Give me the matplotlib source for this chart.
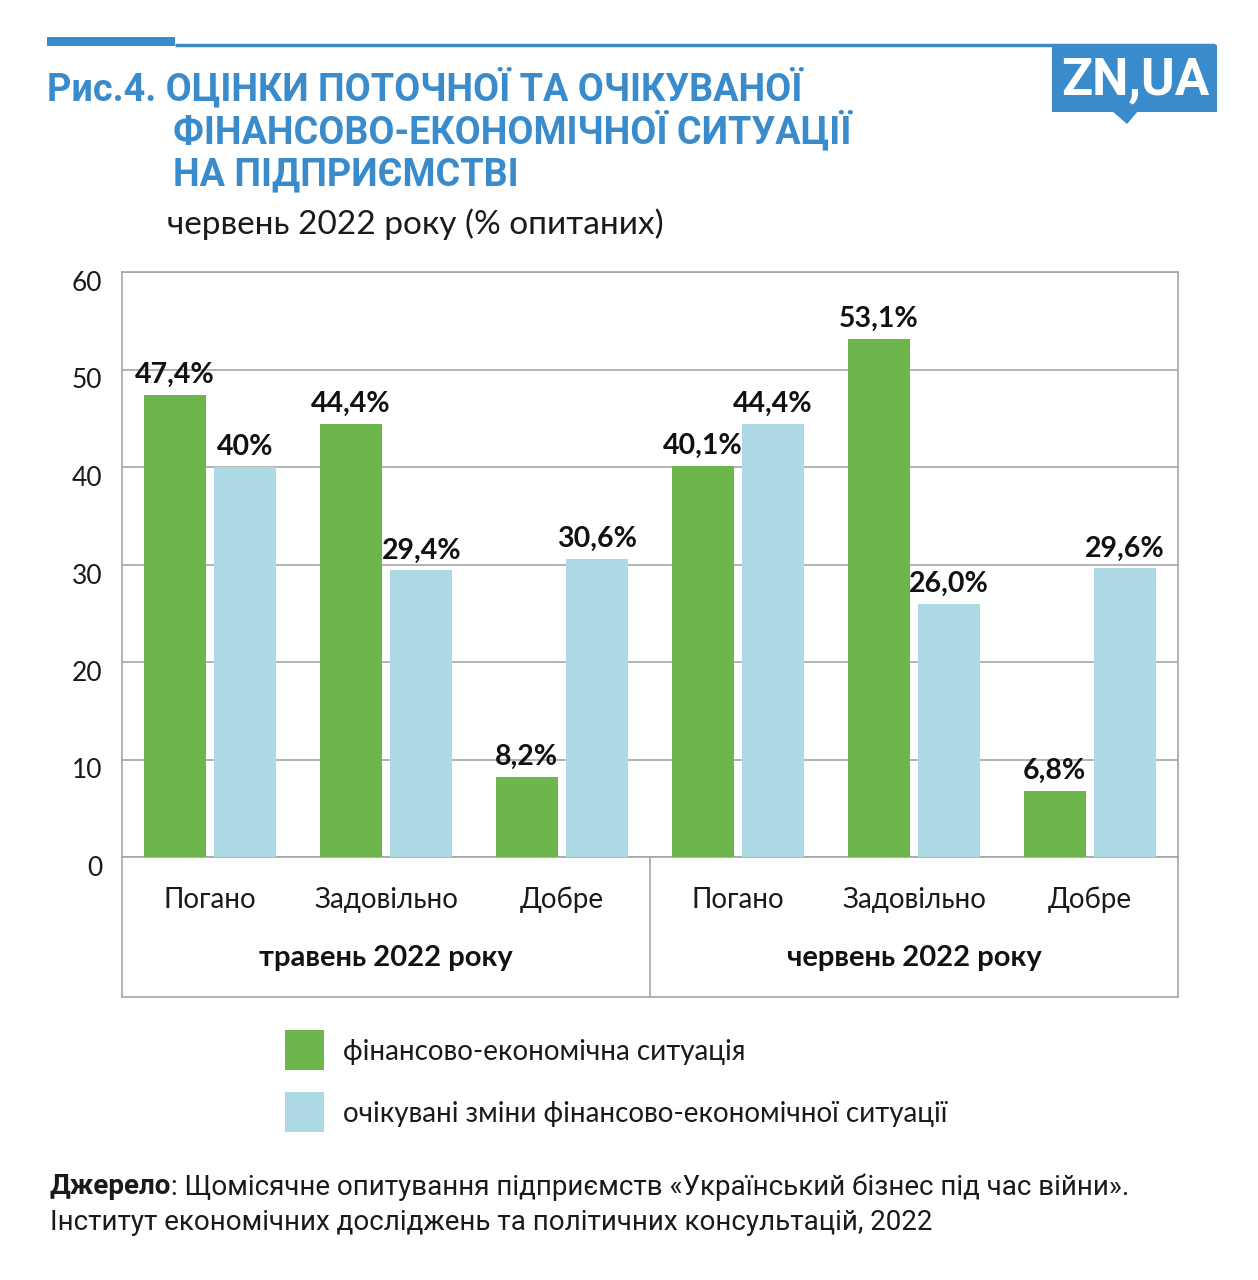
import numpy as np
import matplotlib
matplotlib.use("Agg")
import matplotlib.pyplot as plt
import matplotlib.transforms as mtransforms
from matplotlib.patches import Rectangle, Polygon

# data
groups = ["травень 2022 року", "червень 2022 року"]
categories = ["Погано", "Задовільно", "Добре"]
current = [47.4, 44.4, 8.2, 40.1, 53.1, 6.8]
expected = [40.0, 29.4, 30.6, 44.4, 26.0, 29.6]
current_lbl = ["47,4%", "44,4%", "8,2%", "40,1%", "53,1%", "6,8%"]
expected_lbl = ["40%", "29,4%", "30,6%", "44,4%", "26,0%", "29,6%"]
series_names = ["фінансово-економічна ситуація",
                "очікувані зміни фінансово-економічної ситуації"]

green = "#6db64e"
lblue = "#add9e5"
blue = "#3a8bcb"
grey = "#a6a6a6"

plt.rcParams['font.family'] = ['Lato', 'DejaVu Sans']
narrow = ['Roboto', 'DejaVu Sans']

W, H = 1258, 1280
fig = plt.figure(figsize=(W / 100, H / 100), dpi=100)

# overlay for decorations in pixel coords
deco = fig.add_axes([0, 0, 1, 1])
deco.set_xlim(0, W)
deco.set_ylim(H, 0)
deco.axis('off')

deco.add_patch(Rectangle((47, 37), 128, 9, color=blue, lw=0))
deco.plot([175, 1215], [45, 45], color=blue, lw=2.5, solid_capstyle='butt')
deco.add_patch(Rectangle((1052, 45), 165, 67, color=blue, lw=0))
deco.add_patch(Polygon([[1112, 111], [1138, 111], [1127, 124]], color=blue, lw=0))
deco.text(1135, 80, "ZN,UA", color='white', fontsize=37, fontweight='bold',
          family=narrow, ha='center', va='center')

title_lines = ["Рис.4. ОЦІНКИ ПОТОЧНОЇ ТА ОЧІКУВАНОЇ",
               "ФІНАНСОВО-ЕКОНОМІЧНОЇ СИТУАЦІЇ",
               "НА ПІДПРИЄМСТВІ"]
deco.text(47, 88, title_lines[0], color=blue, fontsize=27.2, fontweight='bold',
          family=narrow, va='center')
deco.text(173, 131, title_lines[1], color=blue, fontsize=27.2, fontweight='bold',
          family=narrow, va='center')
deco.text(173, 175, title_lines[2], color=blue, fontsize=27.2, fontweight='bold',
          family=narrow, va='center')
deco.text(167, 224, "червень 2022 року (% опитаних)", color='#1a1a1a',
          fontsize=24, va='center')

# legend
deco.add_patch(Rectangle((285, 1030), 39, 40, color=green, lw=0))
deco.add_patch(Rectangle((285, 1092), 39, 40, color=lblue, lw=0))
deco.text(343, 1052, series_names[0], fontsize=20, va='center', color='#1a1a1a')
deco.text(343, 1114, series_names[1], fontsize=20, va='center', color='#1a1a1a')

# footer
src = deco.text(50, 1187, "Джерело", fontsize=20, fontweight='bold', family=narrow,
                va='center', color='#1a1a1a')
deco.annotate(": Щомісячне опитування підприємств «Український бізнес під час війни».",
              xy=(1, 0.5), xycoords=src, va='center', fontsize=20,
              family=narrow, color='#1a1a1a')
deco.text(50, 1222, "Інститут економічних досліджень та політичних консультацій, 2022",
          fontsize=20, family=narrow, va='center', color='#1a1a1a')

# main chart
ax = fig.add_axes([122 / W, 1 - 857 / H, (1178 - 122) / W, (857 - 272) / H])
x = np.arange(len(current))
bw = 0.355
ax.bar(x - 0.2, current, bw, color=green, zorder=3)
ax.bar(x + 0.2, expected, bw, color=lblue, zorder=3)
ax.set_xlim(-0.5, len(current) - 0.5)
ax.set_ylim(0, 60)
ax.set_yticks(range(0, 61, 10))
ax.yaxis.grid(True, color=grey, lw=1.2, zorder=0)
ax.tick_params(axis='y', length=0, pad=14, labelsize=19, labelcolor='#1a1a1a')
ax.set_xticks([])
for s in ax.spines.values():
    s.set_color(grey)
    s.set_linewidth(1.2)
off = mtransforms.ScaledTranslation(0, -9 / 100, fig.dpi_scale_trans)
for lbl in ax.get_yticklabels():
    lbl.set_transform(lbl.get_transform() + off)

for i in range(len(current)):
    ax.annotate(current_lbl[i], (x[i] - 0.2, current[i]), xytext=(0, 5),
                textcoords='offset points', ha='center', va='bottom',
                fontsize=20.5, fontweight='bold', color='#111111')
    ax.annotate(expected_lbl[i], (x[i] + 0.2, expected[i]), xytext=(0, 5),
                textcoords='offset points', ha='center', va='bottom',
                fontsize=20.5, fontweight='bold', color='#111111')

# category box below axes
yb = -(997 - 857) / (857 - 272)
for xx in [0, 0.5, 1]:
    ax.plot([xx, xx], [0, yb], transform=ax.transAxes, color=grey, lw=1.2, clip_on=False)
ax.plot([0, 1], [yb, yb], transform=ax.transAxes, color=grey, lw=1.2, clip_on=False)

cat_y = -(900 - 857) / (857 - 272)
grp_y = -(958 - 857) / (857 - 272)
trans = mtransforms.blended_transform_factory(ax.transData, ax.transAxes)
for i in range(len(current)):
    ax.text(x[i], cat_y, categories[i % 3], transform=trans, ha='center',
            va='center', fontsize=20, color='#1a1a1a')
for g in range(len(groups)):
    ax.text(3 * g + 1, grp_y, groups[g], transform=trans, ha='center',
            va='center', fontsize=21, fontweight='bold', color='#111111')

fig.savefig("out.png", dpi=100)
